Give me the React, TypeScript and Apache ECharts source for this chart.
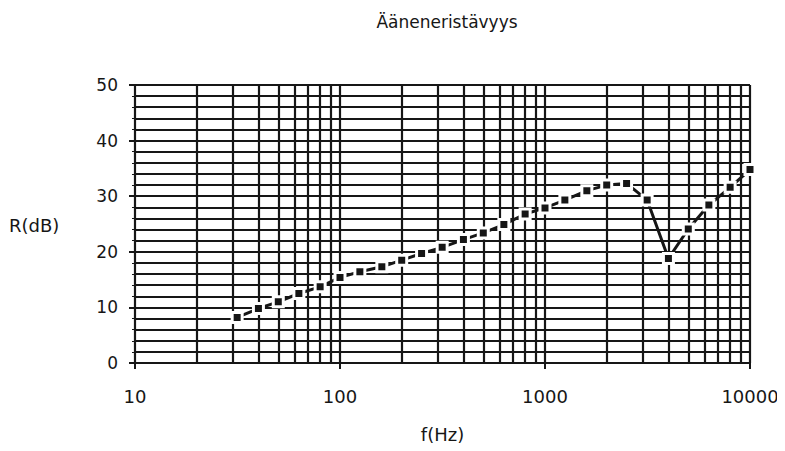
import React, { useEffect, useRef } from "react";
import * as echarts from "echarts";

const TITLE = "Ääneneristävyys";
const X_NAME = "f(Hz)";
const Y_NAME = "R(dB)";

const frequencies = [
  31.5, 40, 50, 63, 80, 100, 125, 160, 200, 250, 315, 400, 500, 630, 800,
  1000, 1250, 1600, 2000, 2500, 3150, 4000, 5000, 6300, 8000, 10000,
];
const reductionDb = [
  8.2, 9.8, 11.0, 12.5, 13.7, 15.4, 16.4, 17.3, 18.5, 19.7, 20.8, 22.2, 23.4,
  24.9, 26.8, 27.9, 29.3, 31.0, 32.0, 32.3, 29.3, 18.8, 24.1, 28.4, 31.6, 34.8,
];

// minor log grid positions (2..9 in each decade)
const minorGridFreqs = [
  20, 30, 40, 50, 60, 70, 80, 90,
  200, 300, 400, 500, 600, 700, 800, 900,
  2000, 3000, 4000, 5000, 6000, 7000, 8000, 9000,
];

const FONT = "'DejaVu Sans', 'Liberation Sans', Arial, sans-serif";
const INK = "#161616";

export default function App() {
  const ref = useRef<HTMLDivElement>(null);

  useEffect(() => {
    if (!ref.current) return;
    const chart = echarts.init(ref.current, undefined, { renderer: "svg" });
    chart.setOption({
      animation: false,
      backgroundColor: "#ffffff",
      title: {
        text: TITLE,
        left: 442,
        top: 8,
        textAlign: "center",
        textStyle: { fontFamily: FONT, fontSize: 17, fontWeight: "normal", color: INK },
      },
      grid: { left: 135, right: 35, top: 85, bottom: 88, containLabel: false },
      xAxis: {
        type: "log",
        logBase: 10,
        min: 10,
        max: 10000,
        name: X_NAME,
        nameLocation: "middle",
        nameGap: 62,
        nameTextStyle: { fontFamily: FONT, fontSize: 18, color: INK },
        axisLine: { show: true, onZero: false, lineStyle: { color: INK, width: 2 } },
        axisTick: { show: true, length: 6, lineStyle: { color: INK, width: 2 } },
        axisLabel: {
          margin: 24,
          fontFamily: FONT,
          fontSize: 18,
          color: INK,
          formatter: (v: number) => String(Math.round(v)),
        },
        splitLine: { show: true, lineStyle: { color: INK, width: 2.2 } },
      },
      yAxis: {
        type: "value",
        min: 0,
        max: 50,
        interval: 10,
        axisLine: { show: true, lineStyle: { color: INK, width: 2 } },
        axisTick: { show: true, length: 6, lineStyle: { color: INK, width: 2 } },
        minorTick: { show: true, splitNumber: 5, length: 3, lineStyle: { color: INK, width: 1 } },
        minorSplitLine: { show: true, lineStyle: { color: INK, width: 2.2 } },
        axisLabel: { margin: 17, fontFamily: FONT, fontSize: 17, color: INK },
        splitLine: { show: true, lineStyle: { color: INK, width: 2.2 } },
      },
      graphic: [
        {
          type: "text",
          left: 9,
          top: 216,
          style: { text: Y_NAME, fontFamily: FONT, fontSize: 18, fill: INK },
        },
      ],
      series: [
        {
          type: "line",
          name: "grid",
          data: [],
          silent: true,
          z: 1,
          markLine: {
            silent: true,
            symbol: ["none", "none"],
            label: { show: false },
            lineStyle: { color: INK, width: 2.2, type: "solid" },
            data: minorGridFreqs.map((f) => ({ xAxis: f })),
          },
        },
        {
          type: "line",
          name: Y_NAME,
          z: 5,
          data: frequencies.map((f, i) => [f, reductionDb[i]]),
          symbol: "rect",
          symbolSize: 10,
          lineStyle: { color: INK, width: 3 },
          itemStyle: { color: INK, borderColor: "#ffffff", borderWidth: 3 },
        },
      ],
    });
    return () => chart.dispose();
  }, []);

  return <div ref={ref} style={{ width: 785, height: 451, margin: -8 }} />;
}
